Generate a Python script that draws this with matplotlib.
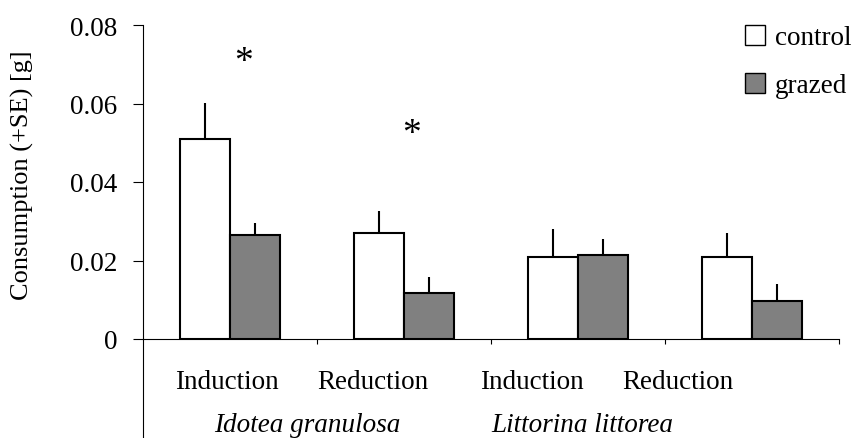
import numpy as np
import matplotlib.pyplot as plt
from matplotlib.lines import Line2D

plt.rcParams['font.family'] = ['Liberation Serif', 'DejaVu Serif']

# data
groups = ['Induction', 'Reduction', 'Induction', 'Reduction']
species = ['Idotea granulosa', 'Littorina littorea']
control = [0.0509, 0.0270, 0.0208, 0.0208]
control_se = [0.0092, 0.0056, 0.0073, 0.0063]
grazed = [0.0265, 0.0116, 0.0213, 0.0097]
grazed_se = [0.0031, 0.0043, 0.0042, 0.0042]
signif = [True, True, False, False]
yticks = [0, 0.02, 0.04, 0.06, 0.08]
ytick_labels = ['0', '0.02', '0.04', '0.06', '0.08']

fs = 19.5
fig = plt.figure(figsize=(8.55, 4.39), dpi=100)
ax = fig.add_axes([143 / 855, 99 / 439, 696 / 855, 314 / 439])

x = np.arange(len(groups))
w = 0.287
ax.bar(x - w / 2, control, w, color='white', edgecolor='black', linewidth=1.5,
       yerr=[np.zeros(len(control)), control_se], capsize=0,
       error_kw=dict(elinewidth=1.5, ecolor='black'), zorder=2)
ax.bar(x + w / 2, grazed, w, color='#808080', edgecolor='black', linewidth=1.5,
       yerr=[np.zeros(len(grazed)), grazed_se], capsize=0,
       error_kw=dict(elinewidth=1.5, ecolor='black'), zorder=2)

# significance stars
star_pos = [(0.08, 0.0683), (1.046, 0.0499)]
sig_idx = [i for i in range(len(signif)) if signif[i]]
for (sx, sy), i in zip(star_pos, sig_idx):
    ax.text(sx, sy, '*', ha='center', va='baseline', fontsize=27)

ax.set_xlim(-0.5, 3.5)
ax.set_ylim(0, 0.08)
ax.set_yticks(yticks)
ax.set_yticklabels(ytick_labels, fontsize=fs)
ax.set_xticks(x + 0.5)
ax.set_xticklabels([])
ax.tick_params(axis='y', direction='out', length=7.2, width=0.8, pad=11)
ax.tick_params(axis='x', direction='out', length=3.6, width=0.8)
for sp in ['top', 'right']:
    ax.spines[sp].set_visible(False)
for sp in ['left', 'bottom']:
    ax.spines[sp].set_linewidth(0.8)

# left spine continues down through the label area
ax.plot([0, 0], [0, -1.0], transform=ax.transAxes, color='black', lw=0.8, clip_on=False)

# category labels (positions as they sit in the original)
label_x = [-0.02, 0.819, 1.736, 2.575]
for lx, g in zip(label_x, groups):
    ax.text(lx, -30 / 314, g, transform=ax.get_xaxis_transform(), ha='center', va='top', fontsize=fs)
species_x = [0.443, 2.023]
for sx, sp in zip(species_x, species):
    ax.text(sx, -98 / 314, sp, transform=ax.get_xaxis_transform(), ha='center', va='bottom',
            fontsize=fs, style='italic')

fig.text(22 / 855, 1 - 175 / 439, 'Consumption (+SE) [g]', rotation=90, ha='center', va='center', fontsize=fs - 0.5)

handles = [Line2D([], [], marker='s', ms=14, mfc='white', mec='black', mew=1, ls='none'),
           Line2D([], [], marker='s', ms=14, mfc='#808080', mec='black', mew=1, ls='none')]
fig.legend(handles, ['control', 'grazed'], loc='upper left', bbox_to_anchor=(741 / 855, 1 - 26 / 439),
           frameon=False, fontsize=fs, handlelength=1.0, handletextpad=0.25, labelspacing=0.85,
           borderpad=0, borderaxespad=0)

fig.savefig('out.png', dpi=100)
